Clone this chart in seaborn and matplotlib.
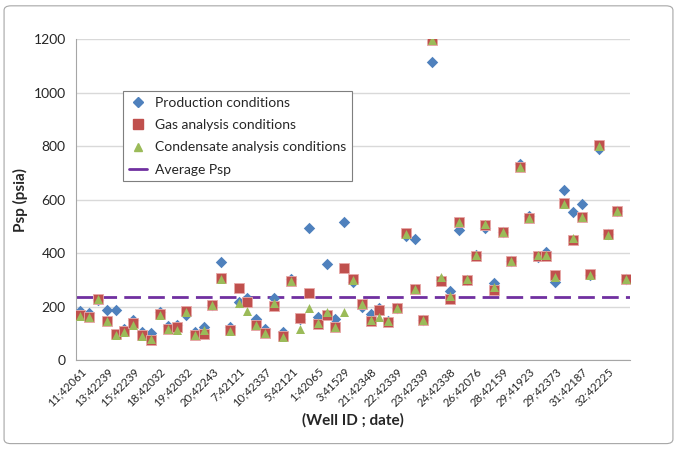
import numpy as np
import pandas as pd
import matplotlib
matplotlib.use("Agg")
import matplotlib.pyplot as plt
from matplotlib.patches import FancyBboxPatch
from matplotlib.lines import Line2D
import seaborn as sns

# values, one per well / date
production = [185, 175, 225, 187, 187, 118, 150, 105, 103, 178,
              127, 133, 170, 106, 125, 205, 365, 122, 218, 232,
              155, 118, 232, 105, 303, 155, 495, 160, 358, 155,
              515, 292, 200, 172, 195, 145, 195, 462, 452, 150,
              1115, 300, 258, 485, 300, 392, 495, 288, 477, 370,
              733, 537, 385, 405, 292, 635, 555, 585, 318, 790,
              470, 558, 305]
gas = [168, 162, 230, 148, 97, 108, 140, 92, 75, 172,
       117, 122, 185, 95, 96, 206, 307, 112, 268, 218,
       132, 103, 203, 90, 297, 156, 250, 135, 168, 123,
       345, 302, 210, 145, 187, 143, 193, 475, 264, 150,
       1197, 295, 230, 515, 300, 390, 505, 262, 477, 370,
       722, 530, 390, 390, 318, 588, 448, 535, 320, 804,
       470, 558, 305]
condensate = [165, 160, 228, 145, 95, 106, 130, 90, 80, 170,
              115, 113, 180, 92, 112, 205, 303, 110, 213, 185,
              132, 100, 215, 88, 295, 118, 195, 137, 178, 125,
              178, 300, 208, 150, 160, 145, 193, 472, 264, 150,
              1195, 310, 238, 515, 302, 392, 510, 275, 480, 370,
              720, 530, 392, 392, 310, 585, 455, 535, 318, 800,
              467, 558, 305]
avg_psp = 237

# only every third well gets a label
tick_labels = ["11;42061", "13;42239", "15;42239", "18;42032", "19;42032",
               "20;42243", "7;42121", "10;42337", "5;42121", "1;42065",
               "3;41529", "21;42348", "22;42339", "23;42339", "24;42338",
               "26;42076", "28;42159", "29;41923", "29;42373", "31;42187",
               "32;42225"]

n = len(production)
df = pd.DataFrame({"well": np.arange(n), "prod": production,
                   "gas": gas, "cond": condensate})

sns.set_style("white")
plt.rcParams["font.family"] = ["Lato", "DejaVu Sans"]

fig = plt.figure(figsize=(6.77, 4.49), dpi=100)
ax = fig.add_axes([0.1123, 0.198, 0.8183, 0.715])

blue = "#4F81BD"
red = "#C0504D"
green = "#9BBB59"
purple = "#7030A0"

sns.scatterplot(data=df, x="well", y="prod", marker="D", s=34, color=blue,
                linewidth=0, ax=ax, zorder=3)
sns.scatterplot(data=df, x="well", y="gas", marker="s", s=42, color=red,
                edgecolor="#E8A9A8", linewidth=0.6, ax=ax, zorder=4)
sns.scatterplot(data=df, x="well", y="cond", marker="^", s=42, color=green,
                linewidth=0, ax=ax, zorder=5)
ax.plot([-0.5, n - 0.5], [avg_psp, avg_psp], color=purple, lw=2,
        dashes=(6, 2.6), zorder=2)

ax.set_xlim(-0.5, n - 0.5)
ax.set_ylim(0, 1200)
ax.set_yticks(range(0, 1201, 200))
ax.yaxis.grid(True, color="#D9D9D9", lw=1)
ax.set_axisbelow(True)

ax.set_xticks(np.arange(0, n, 3))
ax.set_xticklabels(tick_labels, rotation=45, ha="right",
                   rotation_mode="anchor", fontsize=8.2)
ax.set_xticks(np.arange(-0.5, n, 1), minor=True)
ax.tick_params(axis="x", which="major", length=0, pad=4)
ax.tick_params(axis="x", which="minor", length=4, color="#A6A6A6", width=0.8)
ax.tick_params(axis="y", length=4, color="#A6A6A6", width=0.8, labelsize=10)

for s in ["top", "right"]:
    ax.spines[s].set_visible(False)
for s in ["left", "bottom"]:
    ax.spines[s].set_color("#A6A6A6")
    ax.spines[s].set_linewidth(0.8)

ax.set_ylabel("Psp (psia)", fontsize=11, fontweight="bold", labelpad=4)
ax.set_xlabel("(Well ID ; date)", fontsize=11, fontweight="bold")
ax.xaxis.set_label_coords(0.5, -0.165)

handles = [
    Line2D([], [], ls="", marker="D", color=blue, ms=5),
    Line2D([], [], ls="", marker="s", color=red, ms=7),
    Line2D([], [], ls="", marker="^", color=green, ms=6),
    Line2D([], [], color=purple, lw=2),
]
names = ["Production conditions", "Gas analysis conditions",
         "Condensate analysis conditions", "Average Psp"]
leg = ax.legend(handles, names, loc="upper left",
                bbox_to_anchor=(0.085, 0.838), fontsize=10,
                frameon=True, fancybox=False, framealpha=1,
                edgecolor="#7F7F7F", handlelength=1.3, borderpad=0.4,
                labelspacing=0.75, handletextpad=0.6, borderaxespad=0)
leg.get_frame().set_linewidth(0.8)

# chart area border
fig.patches.append(FancyBboxPatch((0.006, 0.012), 0.988, 0.975,
                                  boxstyle="round,pad=0,rounding_size=0.01",
                                  transform=fig.transFigure, fill=False,
                                  edgecolor="#A6A6A6", lw=0.8))

fig.savefig("out.png", dpi=100)
